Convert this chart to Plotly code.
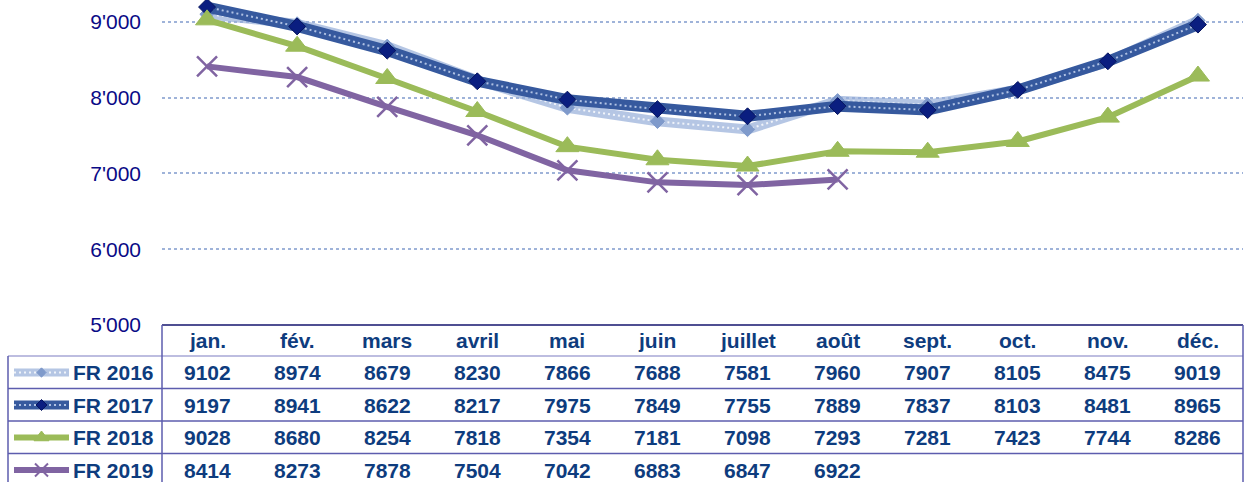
import plotly.graph_objects as go

months = ["jan.", "fév.", "mars", "avril", "mai", "juin", "juillet", "août",
          "sept.", "oct.", "nov.", "déc."]
series_names = ["FR 2016", "FR 2017", "FR 2018", "FR 2019"]
fr2016 = [9102, 8974, 8679, 8230, 7866, 7688, 7581, 7960, 7907, 8105, 8475, 9019]
fr2017 = [9197, 8941, 8622, 8217, 7975, 7849, 7755, 7889, 7837, 8103, 8481, 8965]
fr2018 = [9028, 8680, 8254, 7818, 7354, 7181, 7098, 7293, 7281, 7423, 7744, 8286]
fr2019 = [8414, 8273, 7878, 7504, 7042, 6883, 6847, 6922]
y_ticks = [5000, 6000, 7000, 8000, 9000]

W, H = 1248, 482
X0, X1 = 162, 1243
Y_TOP_TABLE = 325
ROW_LINES = [356, 388.5, 421, 453.5]
HEADER_Y = 340.5
ROW_Y = [372.5, 405, 437.5, 470]

def px(x):
    return x / W

def py(y):
    return 1 - y / H

TXT = "#0E3C7E"
styles = {
    "FR 2016": dict(base="rgba(150,174,216,0.7)", bw=10, over="rgba(255,255,255,0.8)",
                    msym="diamond", mcol="#7F9ACB", msize=11, mline="#7F9ACB"),
    "FR 2017": dict(base="#36599E", bw=11, over="rgba(190,205,235,0.9)",
                    msym="diamond", mcol="#0A1E80", msize=13, mline="#06145E"),
    "FR 2018": dict(base="#9BBB59", bw=6, over=None,
                    msym="triangle-up", mcol="#9BBB59", msize=20, mline="#9BBB59"),
    "FR 2019": dict(base="#8064A2", bw=6, over=None,
                    msym="x-thin", mcol="#8064A2", msize=20, mline="#8064A2"),
}
data = {"FR 2016": fr2016, "FR 2017": fr2017, "FR 2018": fr2018, "FR 2019": fr2019}

fig = go.Figure()
for name in series_names:
    vals = data[name]
    st = styles[name]
    xs = months[:len(vals)]
    fig.add_trace(go.Scatter(x=xs, y=vals, mode="lines", name=name,
                             line=dict(color=st["base"], width=st["bw"]),
                             showlegend=False, hoverinfo="skip"))
    if st["over"]:
        fig.add_trace(go.Scatter(x=xs, y=vals, mode="lines",
                                 line=dict(color=st["over"], width=2, dash="2px,3px"),
                                 showlegend=False, hoverinfo="skip"))
    fig.add_trace(go.Scatter(x=xs, y=vals, mode="markers", name=name,
                             marker=dict(symbol=st["msym"], color=st["mcol"], size=st["msize"],
                                         line=dict(color=st["mline"], width=2.5 if st["msym"] == "x-thin" else 1)),
                             showlegend=False, hoverinfo="x+y"))

# legend swatches in table (overlay pixel axes)
for i, name in enumerate(series_names):
    st = styles[name]
    yy = ROW_Y[i]
    fig.add_trace(go.Scatter(x=[14, 69], y=[yy, yy], mode="lines", xaxis="x2", yaxis="y2",
                             line=dict(color=st["base"], width=max(st["bw"] - 2, 6)),
                             showlegend=False, hoverinfo="skip"))
    if st["over"]:
        fig.add_trace(go.Scatter(x=[14, 69], y=[yy, yy], mode="lines", xaxis="x2", yaxis="y2",
                                 line=dict(color=st["over"], width=2, dash="2px,3px"),
                                 showlegend=False, hoverinfo="skip"))
    fig.add_trace(go.Scatter(x=[41.5], y=[yy], mode="markers", xaxis="x2", yaxis="y2",
                             marker=dict(symbol=st["msym"], color=st["mcol"],
                                         size=st["msize"] * 0.65,
                                         line=dict(color=st["mline"], width=2 if st["msym"] == "x-thin" else 1)),
                             showlegend=False, hoverinfo="skip"))

shapes = []
shapes.append(dict(type="line", xref="paper", yref="paper", x0=px(X0), x1=px(X1),
                   y0=py(Y_TOP_TABLE), y1=py(Y_TOP_TABLE), line=dict(color="#14146E", width=1.5)))
for k, yl in enumerate(ROW_LINES):
    shapes.append(dict(type="line", xref="paper", yref="paper", x0=px(8), x1=px(X1),
                       y0=py(yl), y1=py(yl),
                       line=dict(color="#A7A7D6" if k == 0 else "#5D5DAE", width=1.5)))
shapes.append(dict(type="line", xref="paper", yref="paper", x0=px(X0), x1=px(X0),
                   y0=py(Y_TOP_TABLE), y1=0, line=dict(color="#5D5DAE", width=1.5)))
shapes.append(dict(type="line", xref="paper", yref="paper", x0=px(X1), x1=px(X1),
                   y0=py(Y_TOP_TABLE), y1=0, line=dict(color="#5D5DAE", width=1.5)))
shapes.append(dict(type="line", xref="paper", yref="paper", x0=px(8), x1=px(8),
                   y0=py(ROW_LINES[0]), y1=0, line=dict(color="#5D5DAE", width=1.5)))

annotations = []
font_b = dict(family="Liberation Sans, Arial, sans-serif", size=21, color=TXT)
for m in months:
    annotations.append(dict(x=m, xref="x", y=py(HEADER_Y), yref="paper", text="<b>%s</b>" % m,
                            showarrow=False, font=font_b, xanchor="center", yanchor="middle"))
for i, name in enumerate(series_names):
    annotations.append(dict(x=px(156), xref="paper", y=py(ROW_Y[i]), yref="paper",
                            text="<b>%s</b>" % name, showarrow=False, font=font_b,
                            xanchor="right", yanchor="middle"))
    for m, v in zip(months, data[name]):
        annotations.append(dict(x=m, xref="x", y=py(ROW_Y[i]), yref="paper",
                                text="<b>%d</b>" % v, showarrow=False, font=font_b,
                                xanchor="center", yanchor="middle"))

fig.update_layout(
    width=W, height=H, autosize=False,
    margin=dict(l=0, r=0, t=0, b=0, pad=0),
    paper_bgcolor="white", plot_bgcolor="rgba(0,0,0,0)",
    separators=".'",
    xaxis=dict(domain=[px(X0), px(X1)], range=[-0.5, 11.5], type="category",
               categoryorder="array", categoryarray=months,
               showticklabels=False, showgrid=False, zeroline=False, showline=False,
               fixedrange=True),
    yaxis=dict(domain=[py(Y_TOP_TABLE), 1], range=[5000, 9290], tickvals=y_ticks,
               tickformat=",d", showgrid=True, gridcolor="#9FB3D9", gridwidth=2,
               griddash="dot", zeroline=False, showline=False, automargin=False,
               ticklabelstandoff=20, fixedrange=True,
               tickfont=dict(family="Liberation Sans, Arial, sans-serif", size=21, color="#0A0A86")),
    xaxis2=dict(domain=[0, 1], range=[0, W], visible=False, anchor="y2", fixedrange=True),
    yaxis2=dict(domain=[0, 1], range=[H, 0], visible=False, anchor="x2", fixedrange=True),
    shapes=shapes,
    annotations=annotations,
)

fig.write_html("out.html", config={"displayModeBar": False},
               post_script="document.body.style.margin='0';document.body.style.overflow='hidden';")
